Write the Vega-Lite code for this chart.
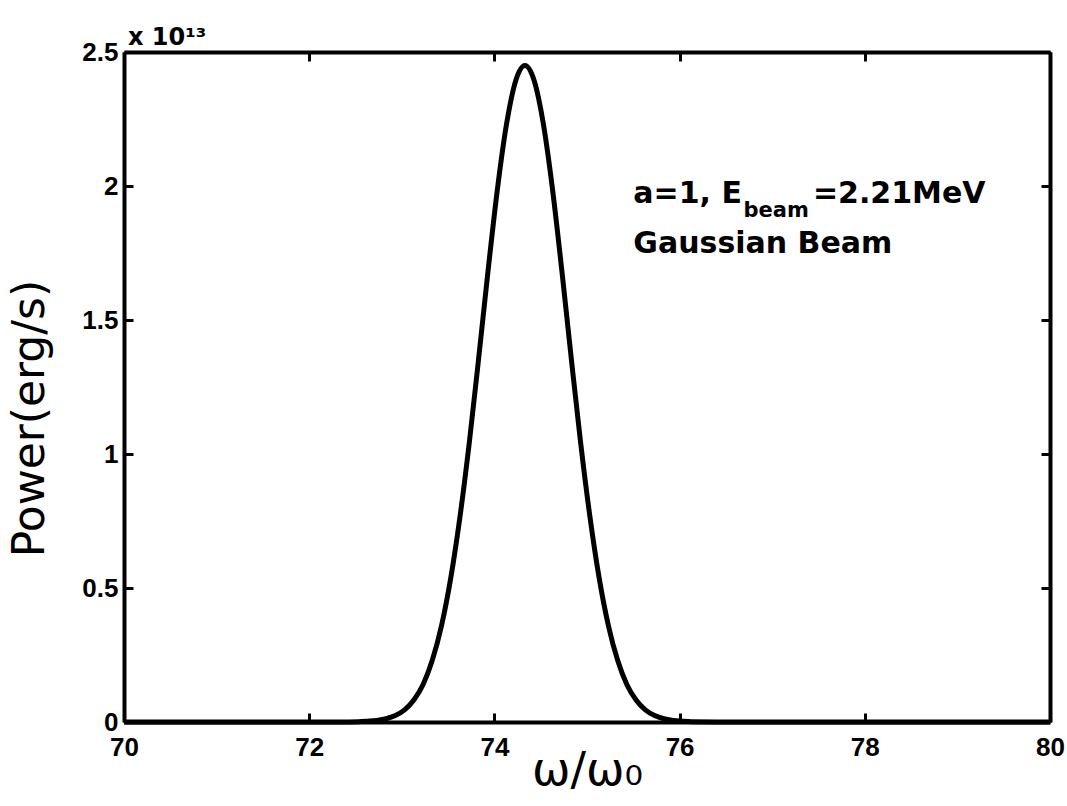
{
  "$schema": "https://vega.github.io/schema/vega-lite/v6.json",
  "width": 926,
  "height": 670,
  "autosize": {"type": "none"},
  "padding": {"left": 124, "top": 52, "right": 17, "bottom": 84},
  "background": "white",
  "title": {"text": "x 10¹³", "anchor": "start", "frame": "group", "orient": "top", "offset": -30, "dx": 4, "baseline": "alphabetic", "font": "DejaVu Sans", "fontSize": 24, "fontWeight": "bold", "color": "black"},
  "datasets": {
    "spectrum": [
      {"omega": 70, "power": 0},
      {"omega": 71, "power": 0},
      {"omega": 72, "power": 0},
      {"omega": 72.3, "power": 0.0002},
      {"omega": 72.53, "power": 0.001},
      {"omega": 72.63, "power": 0.003},
      {"omega": 72.73, "power": 0.006},
      {"omega": 72.83, "power": 0.012},
      {"omega": 72.93, "power": 0.024},
      {"omega": 73.03, "power": 0.045},
      {"omega": 73.13, "power": 0.082},
      {"omega": 73.23, "power": 0.14},
      {"omega": 73.33, "power": 0.231},
      {"omega": 73.43, "power": 0.361},
      {"omega": 73.53, "power": 0.54},
      {"omega": 73.63, "power": 0.77},
      {"omega": 73.73, "power": 1.046},
      {"omega": 73.83, "power": 1.357},
      {"omega": 73.93, "power": 1.679},
      {"omega": 74.03, "power": 1.981},
      {"omega": 74.13, "power": 2.229},
      {"omega": 74.23, "power": 2.393},
      {"omega": 74.33, "power": 2.45},
      {"omega": 74.43, "power": 2.393},
      {"omega": 74.53, "power": 2.229},
      {"omega": 74.63, "power": 1.981},
      {"omega": 74.73, "power": 1.679},
      {"omega": 74.83, "power": 1.357},
      {"omega": 74.93, "power": 1.046},
      {"omega": 75.03, "power": 0.77},
      {"omega": 75.13, "power": 0.54},
      {"omega": 75.23, "power": 0.361},
      {"omega": 75.33, "power": 0.231},
      {"omega": 75.43, "power": 0.14},
      {"omega": 75.53, "power": 0.082},
      {"omega": 75.63, "power": 0.045},
      {"omega": 75.73, "power": 0.024},
      {"omega": 75.83, "power": 0.012},
      {"omega": 75.93, "power": 0.006},
      {"omega": 76.03, "power": 0.003},
      {"omega": 76.13, "power": 0.001},
      {"omega": 76.4, "power": 0.0002},
      {"omega": 77, "power": 0},
      {"omega": 78, "power": 0},
      {"omega": 79, "power": 0},
      {"omega": 80, "power": 0}
    ],
    "notes": [
      {"omega": 75.5, "power": 1.937, "label": "a=1, E"},
      {"omega": 77.44, "power": 1.937, "label": "=2.21MeV"},
      {"omega": 75.5, "power": 1.75, "label": "Gaussian Beam"}
    ],
    "subnotes": [
      {"omega": 76.69, "power": 1.884, "label": "beam"}
    ]
  },
  "layer": [
    {
      "data": {"name": "spectrum"},
      "mark": {"type": "line", "color": "black", "strokeWidth": 5, "interpolate": "monotone"},
      "encoding": {
        "x": {"field": "omega", "type": "quantitative",
              "scale": {"domain": [70, 80], "nice": false, "zero": false},
              "axis": {"orient": "bottom", "values": [70, 72, 74, 76, 78, 80], "title": "ω/ω₀",
                       "titleFont": "DejaVu Sans", "titleFontSize": 46, "titleFontWeight": "normal", "titleColor": "black",
                       "titleBaseline": "alphabetic", "titleY": 62, "labelPadding": 21}},
        "y": {"field": "power", "type": "quantitative",
              "scale": {"domain": [0, 2.5], "nice": false},
              "axis": {"orient": "left", "values": [0, 0.5, 1, 1.5, 2, 2.5], "format": "~g", "title": "Power(erg/s)",
                       "titleFont": "DejaVu Sans", "titleFontSize": 44, "titleFontWeight": "normal", "titleColor": "black",
                       "titleBaseline": "bottom", "titleX": -72, "titleY": 366, "labelPadding": 15}}
      }
    },
    {
      "data": {"name": "notes"},
      "mark": {"type": "text", "align": "left", "baseline": "alphabetic", "font": "DejaVu Sans", "fontWeight": "bold", "fontSize": 30, "color": "black"},
      "encoding": {
        "x": {"field": "omega", "type": "quantitative", "axis": {"orient": "top", "values": [70, 72, 74, 76, 78, 80], "labels": false, "title": null}},
        "y": {"field": "power", "type": "quantitative", "axis": {"orient": "right", "values": [0, 0.5, 1, 1.5, 2, 2.5], "labels": false, "title": null}},
        "text": {"field": "label"}
      }
    },
    {
      "data": {"name": "subnotes"},
      "mark": {"type": "text", "align": "left", "baseline": "alphabetic", "font": "DejaVu Sans", "fontWeight": "bold", "fontSize": 21, "color": "black"},
      "encoding": {
        "x": {"field": "omega", "type": "quantitative", "axis": null},
        "y": {"field": "power", "type": "quantitative", "axis": null},
        "text": {"field": "label"}
      }
    }
  ],
  "resolve": {"axis": {"x": "independent", "y": "independent"}},
  "config": {
    "view": {"stroke": null},
    "axis": {
      "grid": false,
      "domainColor": "black",
      "domainWidth": 4,
      "tickColor": "black",
      "tickWidth": 3,
      "tickSize": -9,
      "labelFont": "Liberation Sans",
      "labelFontWeight": "bold",
      "labelFontSize": 26,
      "labelColor": "black",
      "labelFlush": false,
      "labelOverlap": false
    }
  }
}
